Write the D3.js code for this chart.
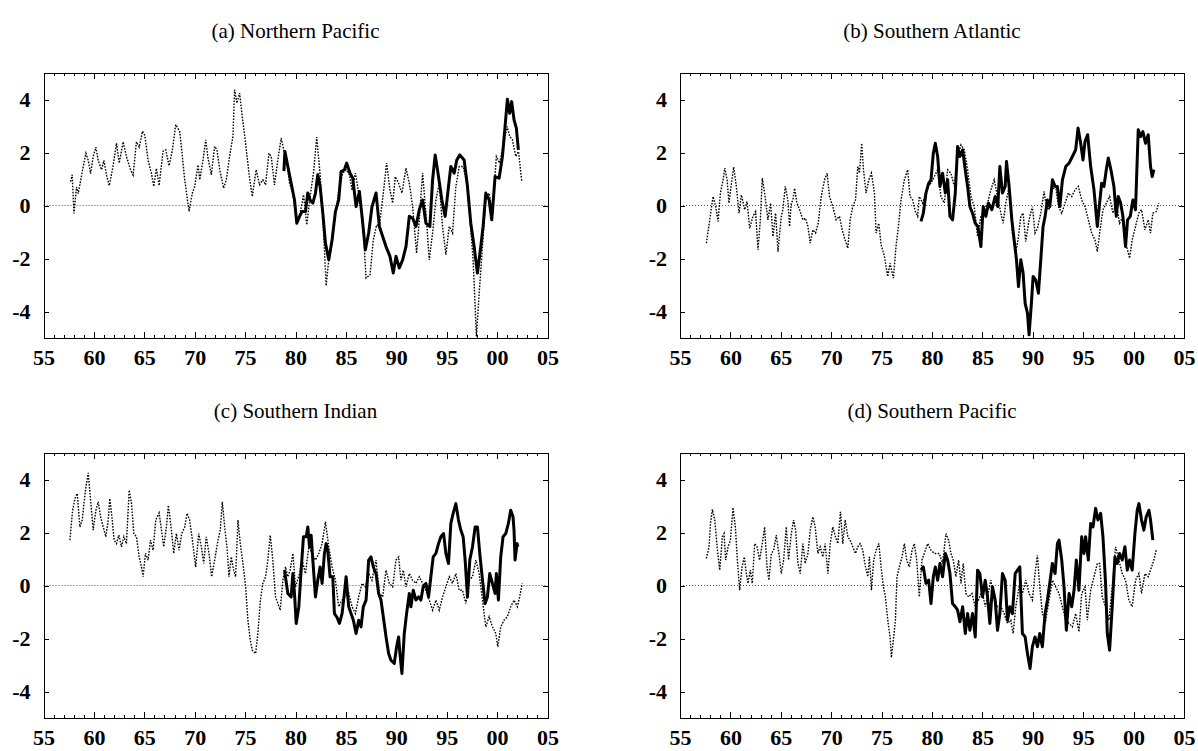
<!DOCTYPE html>
<html>
<head>
<meta charset="utf-8">
<script src="https://cdn.jsdelivr.net/npm/d3@7"></script>
<style>
  html, body { margin: 0; padding: 0; background: #fff; }
  svg { display: block; }
  .title { font-family: "Liberation Serif", "Times New Roman", serif; font-size: 21px; }
  .axis text { font-family: "Liberation Serif", "Times New Roman", serif; font-size: 22px; font-weight: bold; fill: #000; }
  .axis path, .axis line { stroke: #000; stroke-width: 1; shape-rendering: crispEdges; }
</style>
</head>
<body>
<svg id="chart" width="1198" height="751"></svg>
<script>
// Panel titles
const titles = ["(a) Northern Pacific", "(b) Southern Atlantic", "(c) Southern Indian", "(d) Southern Pacific"];

// Axis ticks
const yearMajorTicks = [1955, 1960, 1965, 1970, 1975, 1980, 1985, 1990, 1995, 2000, 2005];
const yearMinorTicks = d3.range(1955, 2006, 1);
const valueTicks = [-4, -2, 0, 2, 4];

// (a) Northern Pacific — long record (dotted) and recent record (solid), [year, value]
const northPacificLong = [
  [1957.69,0.9],[1957.85,1.16],[1958.02,-0.3],[1958.28,0.7],[1958.45,0.45],[1958.88,1.35],[1959.21,1.97],[1959.44,1.7],
  [1959.67,1.2],[1959.93,1.85],[1960.2,2.2],[1960.43,1.7],[1960.76,1.35],[1960.99,1.7],[1961.25,1.15],[1961.52,0.75],
  [1961.91,1.5],[1962.24,2.35],[1962.51,1.6],[1962.9,2.4],[1963.23,1.85],[1963.63,1.35],[1963.89,1.15],[1964.22,2.4],
  [1964.49,2.2],[1964.82,2.8],[1965.05,2.65],[1965.38,1.7],[1965.71,1.2],[1965.94,0.72],[1966.2,1.4],[1966.47,0.75],
  [1966.86,2.05],[1967.13,2.1],[1967.46,1.5],[1967.79,2.1],[1968.12,3.05],[1968.51,2.8],[1968.78,1.85],[1969.01,0.97],
  [1969.44,-0.22],[1969.77,0.47],[1970.0,0.72],[1970.33,1.53],[1970.5,0.97],[1970.83,1.72],[1971.09,2.48],[1971.32,1.79],
  [1971.65,1.16],[1971.98,2.23],[1972.21,2.1],[1972.48,1.35],[1972.87,0.65],[1973.14,0.97],[1973.46,1.85],[1973.79,2.6],
  [1973.96,4.37],[1974.19,3.86],[1974.45,4.24],[1974.72,3.36],[1975.05,2.35],[1975.38,1.22],[1975.71,0.34],[1976.1,1.35],
  [1976.43,0.78],[1976.76,0.97],[1977.03,0.78],[1977.36,1.97],[1977.59,1.85],[1977.92,0.78],[1978.25,1.72],[1978.58,2.54],
  [1978.91,1.97],[1979.08,1.85],[1979.41,0.84],[1979.74,0.47],[1980.07,-0.54],[1980.4,-0.41],[1980.8,0.4],[1981.12,-0.73],
  [1981.45,0.34],[1981.78,1.22],[1982.11,2.58],[1982.44,1.16],[1982.71,-0.41],[1983.04,-3.03],[1983.3,-2.05],[1983.63,-1.17],
  [1983.96,-0.29],[1984.36,0.72],[1984.69,1.22],[1985.02,1.35],[1985.35,1.16],[1985.61,0.59],[1985.94,1.22],[1986.27,0.47],
  [1986.67,-0.54],[1987.0,-2.74],[1987.39,-2.62],[1987.72,-1.3],[1988.05,-0.73],[1988.32,-0.79],[1988.71,0.47],[1989.04,1.6],
  [1989.37,0.59],[1989.64,0.09],[1989.9,1.09],[1990.23,0.84],[1990.56,0.47],[1990.96,1.41],[1991.29,0.84],[1991.62,-0.04],
  [1992.01,-1.8],[1992.28,-0.54],[1992.61,1.22],[1992.94,-0.29],[1993.27,-2.05],[1993.6,-1.04],[1993.93,0.21],[1994.26,0.84],
  [1994.59,-0.79],[1994.92,-1.86],[1995.25,-0.79],[1995.58,-1.04],[1995.91,0.72],[1996.24,1.47],[1996.63,1.47],[1996.96,0.91],
  [1997.29,-0.41],[1997.62,-2.05],[1997.95,-4.94],[1998.22,-3.31],[1998.55,-1.55],[1998.88,0.21],[1999.21,0.47],[1999.54,-0.29],
  [1999.93,1.85],[2000.26,1.6],[2000.59,2.23],[2000.99,2.98],[2001.26,2.6],[2001.52,2.48],[2001.85,1.85],[2002.12,2.04],
  [2002.45,0.91]
];
const northPacificRecent = [
  [1978.85,1.3],[1978.95,2.04],[1979.24,1.47],[1979.57,0.84],[1979.9,0.21],[1980.13,-0.67],[1980.4,-0.41],[1980.66,-0.23],
  [1980.99,-0.23],[1981.22,0.47],[1981.45,0.21],[1981.72,0.09],[1981.98,0.47],[1982.21,1.16],[1982.44,0.72],[1982.71,-0.29],
  [1982.97,-1.42],[1983.3,-2.05],[1983.63,-1.3],[1983.96,-0.23],[1984.29,0.21],[1984.52,1.28],[1984.85,1.35],[1985.08,1.6],
  [1985.41,1.22],[1985.68,1.03],[1986.01,-0.04],[1986.34,0.53],[1986.6,-0.41],[1986.93,-1.67],[1987.26,-1.04],[1987.59,-0.04],
  [1987.99,0.47],[1988.32,-0.79],[1988.65,-1.17],[1988.98,-1.55],[1989.37,-1.92],[1989.7,-2.55],[1989.97,-1.92],[1990.3,-2.36],
  [1990.63,-2.05],[1990.96,-1.55],[1991.29,-0.41],[1991.62,-0.48],[1991.95,-0.79],[1992.28,-0.16],[1992.61,0.21],[1992.94,-0.67],
  [1993.33,-0.79],[1993.6,0.97],[1993.86,1.91],[1994.19,1.09],[1994.52,0.21],[1994.85,-0.41],[1995.18,0.72],[1995.41,1.47],
  [1995.74,1.22],[1996.0,1.72],[1996.3,1.91],[1996.73,1.72],[1997.06,0.72],[1997.39,-0.67],[1997.72,-1.55],[1998.05,-2.55],
  [1998.38,-1.55],[1998.61,-0.79],[1998.88,0.47],[1999.21,0.21],[1999.47,-0.54],[1999.8,1.09],[2000.2,1.03],[2000.53,1.85],
  [2000.79,2.98],[2001.02,4.01],[2001.25,3.48],[2001.45,3.92],[2001.68,3.23],[2001.91,2.92],[2002.11,2.1]
];

// (b) Southern Atlantic
const southAtlanticLong = [
  [1957.62,-1.42],[1957.95,-0.54],[1958.28,0.34],[1958.55,-0.04],[1958.78,-0.6],[1959.01,0.47],[1959.27,0.97],[1959.44,1.41],
  [1959.67,0.97],[1959.86,0.09],[1960.1,0.84],[1960.33,1.45],[1960.59,0.72],[1960.85,-0.29],[1961.09,0.4],[1961.42,-0.16],
  [1961.65,0.15],[1961.91,-0.86],[1962.24,-0.41],[1962.5,-0.23],[1962.74,-1.67],[1962.97,-0.54],[1963.16,1.03],[1963.4,0.47],
  [1963.72,-0.54],[1963.99,0.09],[1964.22,-1.17],[1964.48,-0.29],[1964.72,-1.74],[1965.05,-0.41],[1965.21,-0.16],[1965.44,0.72],
  [1965.7,0.21],[1965.87,-0.79],[1966.04,0.09],[1966.2,0.21],[1966.37,0.65],[1966.6,0.09],[1966.86,-0.16],[1967.19,-0.54],
  [1967.45,-0.48],[1967.69,-0.79],[1967.92,-1.42],[1968.18,-0.92],[1968.45,-1.04],[1968.71,-0.67],[1969.01,0.34],[1969.34,0.97],
  [1969.6,1.22],[1969.83,0.34],[1970.16,-0.04],[1970.49,-0.54],[1970.82,-0.41],[1971.09,-0.92],[1971.32,-1.23],[1971.65,-1.61],
  [1971.88,-0.54],[1972.14,-0.04],[1972.41,0.21],[1972.64,1.47],[1972.8,1.22],[1973.03,2.35],[1973.2,1.35],[1973.46,0.47],
  [1973.73,0.97],[1973.99,1.22],[1974.29,0.47],[1974.45,-1.04],[1974.72,-0.67],[1974.95,-1.48],[1975.28,-1.92],[1975.61,-2.68],
  [1975.84,-2.18],[1976.17,-2.74],[1976.43,-1.55],[1976.7,-0.67],[1976.93,0.21],[1977.26,0.97],[1977.59,1.35],[1977.82,0.34],
  [1978.08,0.21],[1978.35,-0.23],[1978.58,-0.41],[1978.74,0.34],[1979.07,0.09],[1979.57,0.72],[1979.9,0.84],[1980.23,1.09],
  [1980.56,1.35],[1980.89,0.34],[1981.22,0.09],[1981.55,1.35],[1981.88,1.22],[1982.21,0.72],[1982.54,1.85],[1982.87,2.29],
  [1983.2,2.1],[1983.53,1.35],[1983.86,0.34],[1984.19,-0.04],[1984.52,-1.17],[1984.85,-0.41],[1985.18,-0.16],[1985.51,0.09],
  [1985.84,0.59],[1986.17,0.97],[1986.5,0.34],[1986.83,-0.29],[1987.06,-0.67],[1987.32,0.09],[1987.65,0.72],[1987.98,-1.04],
  [1988.31,-1.8],[1988.58,-1.17],[1988.81,-0.41],[1989.04,-0.29],[1989.3,-1.36],[1989.63,-0.54],[1989.96,-0.04],[1990.22,-1.04],
  [1990.46,-0.86],[1990.79,-0.29],[1991.12,0.53],[1991.35,-0.04],[1991.61,-0.16],[1991.88,0.59],[1992.27,0.72],[1992.54,-0.04],
  [1992.87,-0.29],[1993.2,0.09],[1993.53,0.47],[1993.86,0.34],[1994.19,0.59],[1994.52,0.72],[1994.85,0.21],[1995.18,-0.04],
  [1995.51,-0.54],[1995.84,-1.04],[1996.17,-1.3],[1996.4,-1.74],[1996.63,-1.04],[1996.96,-0.16],[1997.29,0.09],[1997.62,0.34],
  [1997.95,-0.29],[1998.28,0.09],[1998.61,-0.67],[1998.94,-0.41],[1999.27,-1.48],[1999.6,-1.99],[1999.86,-1.3],[2000.19,-0.79],
  [2000.52,-0.29],[2000.79,-0.16],[2001.12,-0.92],[2001.45,-0.54],[2001.68,-1.04],[2001.91,-0.29],[2002.24,-0.23],[2002.5,0.09]
];
const southAtlanticRecent = [
  [1978.91,-0.6],[1979.14,-0.29],[1979.4,0.47],[1979.67,0.84],[1979.9,0.97],[1980.13,1.97],[1980.33,2.35],[1980.56,1.85],
  [1980.79,0.72],[1981.05,1.22],[1981.32,0.47],[1981.55,0.97],[1981.78,-0.41],[1982.04,-0.54],[1982.31,0.47],[1982.54,2.23],
  [1982.77,1.85],[1983.04,2.1],[1983.3,1.35],[1983.53,0.72],[1983.76,-0.04],[1984.02,-0.29],[1984.29,-0.67],[1984.55,-0.79],
  [1984.85,-1.55],[1985.08,-0.04],[1985.34,-0.41],[1985.61,0.09],[1985.94,-0.16],[1986.27,0.34],[1986.53,-0.04],[1986.73,1.47],
  [1986.99,0.47],[1987.26,0.72],[1987.39,1.66],[1987.65,0.72],[1987.92,-0.54],[1988.15,-1.3],[1988.38,-2.05],[1988.58,-3.06],
  [1988.81,-2.05],[1989.04,-2.55],[1989.24,-3.69],[1989.47,-4.06],[1989.63,-4.88],[1989.86,-3.69],[1990.03,-2.68],[1990.29,-2.81],
  [1990.56,-3.31],[1990.79,-2.05],[1991.02,-0.79],[1991.22,-0.41],[1991.45,0.21],[1991.69,-0.04],[1991.95,0.97],[1992.21,0.72],
  [1992.44,0.72],[1992.68,-0.04],[1992.94,0.97],[1993.27,1.47],[1993.6,1.6],[1993.93,1.85],[1994.25,2.1],[1994.49,2.92],
  [1994.75,2.35],[1994.98,1.72],[1995.18,2.42],[1995.44,2.67],[1995.74,1.47],[1996.07,0.59],[1996.4,-0.79],[1996.63,0.09],
  [1996.83,0.84],[1997.06,0.72],[1997.29,1.35],[1997.49,1.79],[1997.75,1.35],[1998.05,0.72],[1998.28,-0.41],[1998.48,0.34],
  [1998.71,0.09],[1998.94,-0.41],[1999.2,-1.55],[1999.4,-0.54],[1999.67,-0.41],[1999.93,0.21],[2000.19,-0.16],[2000.46,2.86],
  [2000.69,2.6],[2000.92,2.79],[2001.18,2.35],[2001.45,2.67],[2001.68,1.47],[2001.84,1.09],[2002.01,1.35]
];

// (c) Southern Indian
const southIndianLong = [
  [1957.62,1.71],[1957.89,2.84],[1958.12,3.28],[1958.35,3.47],[1958.61,2.21],[1958.84,2.47],[1959.01,3.09],[1959.21,3.72],
  [1959.44,4.25],[1959.67,3.22],[1959.93,2.09],[1960.2,2.84],[1960.43,3.16],[1960.66,2.59],[1960.92,2.21],[1961.19,1.84],
  [1961.42,2.47],[1961.58,3.28],[1961.82,2.47],[1962.01,1.71],[1962.24,1.58],[1962.48,1.9],[1962.74,1.46],[1962.97,1.84],
  [1963.23,1.58],[1963.5,3.6],[1963.73,3.09],[1963.96,1.96],[1964.22,1.84],[1964.49,1.08],[1964.72,0.7],[1964.88,0.33],
  [1965.12,1.21],[1965.38,0.96],[1965.61,1.71],[1965.87,1.33],[1966.14,2.47],[1966.47,2.74],[1966.7,2.09],[1966.93,1.46],
  [1967.19,2.21],[1967.39,3.03],[1967.69,2.09],[1967.92,1.21],[1968.18,1.96],[1968.45,1.33],[1968.71,1.96],[1969.01,2.21],
  [1969.24,2.72],[1969.5,2.47],[1969.77,1.71],[1970.1,0.7],[1970.4,1.96],[1970.66,1.46],[1970.89,0.83],[1971.15,1.84],
  [1971.42,1.21],[1971.68,0.33],[1971.98,0.96],[1972.31,1.71],[1972.54,2.09],[1972.74,3.16],[1972.97,2.21],[1973.2,1.46],
  [1973.4,0.33],[1973.63,1.08],[1973.86,0.58],[1974.06,0.33],[1974.29,2.47],[1974.52,1.58],[1974.79,0.83],[1975.05,-0.05],
  [1975.28,-1.31],[1975.51,-2.06],[1975.71,-2.44],[1976.04,-2.57],[1976.27,-1.81],[1976.5,-0.62],[1976.76,0.08],[1977.03,0.33],
  [1977.26,0.96],[1977.49,1.9],[1977.75,0.96],[1978.02,-0.43],[1978.25,-0.68],[1978.48,-0.93],[1978.75,0.2],[1979.01,0.7],
  [1979.24,0.33],[1979.47,0.58],[1979.74,1.21],[1980.0,-0.05],[1980.4,0.45],[1980.66,0.96],[1980.99,0.45],[1981.32,1.46],
  [1981.65,1.21],[1981.98,0.96],[1982.31,1.21],[1982.64,1.58],[1982.97,2.4],[1983.3,1.46],[1983.63,0.7],[1983.96,0.2],
  [1984.29,-0.8],[1984.62,-0.55],[1984.95,-0.43],[1985.28,-0.3],[1985.61,-0.8],[1985.94,-1.06],[1986.27,-0.43],[1986.6,0.08],
  [1986.93,-0.05],[1987.26,0.45],[1987.59,0.2],[1987.99,0.96],[1988.32,-0.3],[1988.65,-0.43],[1988.98,0.58],[1989.31,0.08],
  [1989.64,-0.05],[1989.97,0.96],[1990.23,1.08],[1990.46,0.2],[1990.69,0.58],[1990.96,-0.05],[1991.29,0.45],[1991.62,0.2],
  [1991.95,0.08],[1992.28,0.33],[1992.61,0.08],[1992.94,-0.18],[1993.27,-0.55],[1993.6,-0.93],[1993.93,-0.55],[1994.26,-0.93],
  [1994.59,-0.43],[1994.92,-0.05],[1995.25,0.33],[1995.58,0.08],[1995.91,0.45],[1996.24,-0.18],[1996.57,-0.18],[1996.9,-0.68],
  [1997.23,0.2],[1997.56,0.33],[1997.89,0.96],[1998.22,0.45],[1998.55,-0.55],[1998.88,-1.56],[1999.21,-1.18],[1999.54,-1.56],
  [1999.87,-1.81],[2000.07,-2.31],[2000.36,-1.56],[2000.69,-1.31],[2001.02,-1.18],[2001.35,-0.8],[2001.68,-0.55],[2002.01,-0.8],
  [2002.24,-0.43],[2002.5,0.08]
];
const southIndianRecent = [
  [1978.91,0.58],[1979.24,-0.3],[1979.57,-0.43],[1979.74,0.45],[1979.9,-0.3],[1980.07,-1.43],[1980.33,-0.8],[1980.56,0.58],
  [1980.79,1.84],[1981.06,1.84],[1981.22,2.21],[1981.39,1.46],[1981.55,1.9],[1981.72,0.96],[1981.98,-0.43],[1982.21,0.2],
  [1982.44,0.7],[1982.64,0.08],[1982.87,1.21],[1983.04,1.58],[1983.2,1.33],[1983.43,0.33],[1983.7,0.33],[1983.86,-1.06],
  [1984.09,-1.18],[1984.36,-1.43],[1984.62,-1.06],[1984.85,-0.3],[1985.02,0.33],[1985.28,-0.8],[1985.51,-1.06],[1985.74,-1.31],
  [1986.01,-1.81],[1986.27,-1.31],[1986.5,-1.56],[1986.73,-0.8],[1987.0,-0.55],[1987.26,0.96],[1987.49,1.08],[1987.72,0.7],
  [1987.99,0.45],[1988.25,-0.3],[1988.48,-0.55],[1988.71,-1.18],[1988.98,-1.94],[1989.24,-2.57],[1989.47,-2.82],[1989.8,-2.94],
  [1990.03,-2.31],[1990.23,-1.94],[1990.36,-2.57],[1990.56,-3.32],[1990.79,-1.81],[1991.02,-1.06],[1991.29,-0.3],[1991.45,-0.8],
  [1991.68,-0.18],[1991.95,-0.55],[1992.21,-0.43],[1992.44,-0.55],[1992.67,-0.05],[1992.94,0.08],[1993.2,-0.43],[1993.43,0.33],
  [1993.66,1.08],[1993.93,1.21],[1994.19,1.58],[1994.42,1.84],[1994.69,1.96],[1994.92,1.21],[1995.18,0.83],[1995.41,2.34],
  [1995.64,2.72],[1995.91,3.09],[1996.17,2.47],[1996.4,2.09],[1996.63,1.84],[1996.83,0.96],[1997.06,-0.43],[1997.29,0.96],
  [1997.56,1.46],[1997.82,2.21],[1998.05,2.21],[1998.28,1.21],[1998.55,0.2],[1998.81,-0.68],[1999.04,-0.43],[1999.27,0.45],
  [1999.54,0.08],[1999.8,-0.3],[1999.93,0.45],[2000.13,-0.55],[2000.36,1.08],[2000.59,1.84],[2000.86,1.96],[2001.12,2.34],
  [2001.35,2.84],[2001.58,2.59],[2001.68,2.09],[2001.78,0.96],[2001.98,1.58],[2002.05,1.46]
];

// (d) Southern Pacific
const southPacificLong = [
  [1957.62,1.02],[1957.88,1.46],[1958.02,2.34],[1958.21,2.87],[1958.45,2.47],[1958.68,1.46],[1958.94,0.58],[1959.2,1.84],
  [1959.37,1.96],[1959.53,0.96],[1959.77,1.46],[1960.0,1.71],[1960.26,2.94],[1960.49,2.21],[1960.69,0.96],[1960.92,-0.18],
  [1961.15,0.7],[1961.38,1.08],[1961.58,0.45],[1961.75,0.08],[1961.98,0.58],[1962.17,0.08],[1962.41,1.58],[1962.64,1.46],
  [1962.9,0.96],[1963.16,1.58],[1963.4,2.21],[1963.63,0.7],[1963.82,0.2],[1964.06,1.21],[1964.29,1.33],[1964.55,1.9],
  [1964.81,1.21],[1965.05,0.45],[1965.28,0.96],[1965.54,2.21],[1965.77,0.96],[1966.04,1.96],[1966.27,2.47],[1966.47,2.09],
  [1966.7,0.83],[1966.93,0.45],[1967.19,1.58],[1967.42,0.83],[1967.69,1.21],[1967.92,2.09],[1968.18,2.59],[1968.41,2.21],
  [1968.68,1.21],[1968.91,1.46],[1969.17,1.08],[1969.4,1.58],[1969.67,0.45],[1969.9,1.58],[1970.16,2.21],[1970.42,1.84],
  [1970.66,1.58],[1970.92,2.78],[1971.15,1.58],[1971.38,2.47],[1971.65,1.84],[1971.88,1.71],[1972.14,1.46],[1972.41,1.21],
  [1972.64,1.46],[1972.87,1.58],[1973.13,1.33],[1973.4,0.7],[1973.63,0.33],[1973.79,1.08],[1973.99,-0.18],[1974.22,0.96],
  [1974.45,1.33],[1974.72,1.58],[1974.95,0.7],[1975.18,-0.05],[1975.38,-0.43],[1975.61,-1.31],[1975.84,-1.94],[1975.97,-2.72],
  [1976.2,-1.94],[1976.37,-1.31],[1976.53,0.33],[1976.76,0.7],[1977.03,1.08],[1977.26,1.58],[1977.49,0.96],[1977.75,0.7],
  [1978.02,1.33],[1978.25,1.58],[1978.48,0.96],[1978.74,-0.43],[1979.0,0.96],[1979.34,1.33],[1979.57,1.58],[1979.9,1.33],
  [1980.23,1.21],[1980.72,1.21],[1981.05,0.83],[1981.38,1.96],[1981.64,1.71],[1981.88,1.21],[1982.11,0.96],[1982.37,0.33],
  [1982.64,0.96],[1982.87,0.08],[1983.1,0.83],[1983.36,-0.3],[1983.63,-0.43],[1983.96,-0.3],[1984.29,-0.8],[1984.62,-0.55],
  [1984.95,-0.18],[1985.28,-0.8],[1985.51,-0.43],[1985.84,0.2],[1986.17,-0.55],[1986.5,-0.8],[1986.83,-0.8],[1987.16,-1.06],
  [1987.49,-1.43],[1987.82,-1.31],[1988.05,-1.81],[1988.31,-0.8],[1988.64,-0.05],[1988.97,-0.3],[1989.3,0.2],[1989.63,-0.3],
  [1989.96,-0.55],[1990.22,0.45],[1990.46,1.14],[1990.69,-0.05],[1990.95,-1.06],[1991.28,-1.31],[1991.61,-0.55],[1991.94,0.2],
  [1992.27,-0.05],[1992.6,-0.3],[1992.93,-0.8],[1993.26,-1.31],[1993.59,-1.43],[1993.92,-1.56],[1994.25,-1.06],[1994.58,-1.75],
  [1994.85,-0.3],[1995.18,-0.05],[1995.41,-1.31],[1995.74,-0.18],[1996.07,0.33],[1996.4,0.83],[1996.63,0.83],[1996.89,-0.43],
  [1997.22,-0.8],[1997.55,-1.31],[1997.88,-0.05],[1998.21,1.46],[1998.54,0.96],[1998.87,0.45],[1999.2,0.2],[1999.53,-0.55],
  [1999.86,-0.8],[2000.19,0.2],[2000.52,0.45],[2000.79,-0.3],[2001.12,0.45],[2001.45,0.33],[2001.78,0.7],[2002.01,0.96],
  [2002.24,1.33]
];
const southPacificRecent = [
  [1978.91,0.58],[1979.14,0.7],[1979.4,0.08],[1979.67,0.2],[1979.9,-0.68],[1980.13,0.33],[1980.33,0.7],[1980.56,0.2],
  [1980.79,0.83],[1981.05,0.33],[1981.32,1.21],[1981.55,0.96],[1981.78,0.45],[1982.04,-0.68],[1982.31,-0.8],[1982.54,-0.93],
  [1982.77,-1.37],[1983.04,-0.8],[1983.3,-1.81],[1983.53,-1.06],[1983.76,-1.69],[1984.02,-1.06],[1984.29,-1.94],[1984.52,0.58],
  [1984.75,0.45],[1985.01,-0.43],[1985.28,0.2],[1985.51,-0.43],[1985.74,-1.43],[1986.0,-0.05],[1986.27,-0.55],[1986.5,-1.69],
  [1986.73,-1.06],[1986.99,0.45],[1987.26,0.2],[1987.49,-1.31],[1987.72,-0.8],[1987.98,-1.06],[1988.25,0.45],[1988.48,0.58],
  [1988.71,0.7],[1988.97,-1.81],[1989.24,-1.94],[1989.47,-2.57],[1989.73,-3.13],[1989.96,-2.31],[1990.22,-1.94],[1990.46,-2.31],
  [1990.69,-1.81],[1990.95,-2.31],[1991.22,-1.06],[1991.45,-0.55],[1991.68,0.08],[1991.94,0.83],[1992.21,0.45],[1992.44,1.58],
  [1992.6,1.71],[1992.87,0.96],[1993.1,-0.05],[1993.33,-1.69],[1993.6,-0.3],[1993.86,-0.8],[1994.09,-0.18],[1994.32,0.96],
  [1994.58,-0.18],[1994.85,1.84],[1995.08,1.21],[1995.24,1.84],[1995.51,0.96],[1995.74,2.34],[1995.97,2.21],[1996.23,2.91],
  [1996.46,2.47],[1996.73,2.72],[1996.96,1.84],[1997.22,0.08],[1997.39,-1.81],[1997.62,-2.44],[1997.88,-0.8],[1998.15,1.08],
  [1998.38,0.83],[1998.61,1.21],[1998.87,0.96],[1999.14,1.46],[1999.37,0.58],[1999.6,0.96],[1999.86,0.58],[2000.13,1.96],
  [2000.36,2.84],[2000.53,3.09],[2000.79,2.47],[2001.02,2.09],[2001.25,2.59],[2001.52,2.84],[2001.68,2.47],[2001.91,1.71]
];

// Panel placement (upper-left corner of each plot frame)
const plotW = 504, plotH = 265;
const panels = [
  { title: titles[0], long: northPacificLong, recent: northPacificRecent, left: 43.5, top: 73 },
  { title: titles[1], long: southAtlanticLong, recent: southAtlanticRecent, left: 680, top: 73 },
  { title: titles[2], long: southIndianLong, recent: southIndianRecent, left: 43.5, top: 453 },
  { title: titles[3], long: southPacificLong, recent: southPacificRecent, left: 680, top: 453 }
];

const svg = d3.select("#chart");
const x = d3.scaleLinear().domain([1955, 2005]).range([0, plotW]);
const y = d3.scaleLinear().domain([-5, 5]).range([plotH, 0]);

const line = d3.line().x(d => x(d[0])).y(d => y(d[1]));

panels.forEach((p, i) => {
  const g = svg.append("g").attr("transform", `translate(${p.left},${p.top})`);

  // title
  svg.append("text")
    .attr("class", "title")
    .attr("x", p.left + plotW / 2)
    .attr("y", p.top - 35)
    .attr("text-anchor", "middle")
    .text(p.title);

  // clip region
  const clipId = `clip${i}`;
  g.append("clipPath").attr("id", clipId)
    .append("rect").attr("width", plotW).attr("height", plotH);

  // zero reference line
  g.append("line")
    .attr("x1", 0).attr("x2", plotW)
    .attr("y1", y(0)).attr("y2", y(0))
    .attr("stroke", "#555").attr("stroke-width", 1)
    .attr("stroke-dasharray", "1,2");

  const lines = g.append("g").attr("clip-path", `url(#${clipId})`);

  // long record, dotted
  lines.append("path")
    .datum(p.long)
    .attr("fill", "none")
    .attr("stroke", "#000")
    .attr("stroke-width", 1.4)
    .attr("stroke-dasharray", "1.6,1.4")
    .attr("d", line);

  // recent record, heavy solid
  lines.append("path")
    .datum(p.recent)
    .attr("fill", "none")
    .attr("stroke", "#000")
    .attr("stroke-width", 3)
    .attr("stroke-linejoin", "round")
    .attr("d", line);

  // minor year ticks (top and bottom)
  g.append("g").attr("class", "axis")
    .attr("transform", `translate(0,${plotH})`)
    .call(d3.axisBottom(x).tickValues(yearMinorTicks).tickSize(-3).tickSizeOuter(0).tickFormat(""));
  g.append("g").attr("class", "axis")
    .call(d3.axisTop(x).tickValues(yearMinorTicks).tickSize(-3).tickSizeOuter(0).tickFormat(""));

  // major year ticks with labels
  g.append("g").attr("class", "axis")
    .attr("transform", `translate(0,${plotH})`)
    .call(d3.axisBottom(x).tickValues(yearMajorTicks).tickSize(-6).tickSizeOuter(0).tickPadding(11)
      .tickFormat(d => String(d).slice(2)));
  g.append("g").attr("class", "axis")
    .call(d3.axisTop(x).tickValues(yearMajorTicks).tickSize(-6).tickSizeOuter(0).tickFormat(""));

  // value axes
  g.append("g").attr("class", "axis")
    .call(d3.axisLeft(y).tickValues(valueTicks).tickSize(-5).tickSizeOuter(0).tickPadding(13)
      .tickFormat(d => String(d)));
  g.append("g").attr("class", "axis")
    .attr("transform", `translate(${plotW},0)`)
    .call(d3.axisRight(y).tickValues(valueTicks).tickSize(-5).tickSizeOuter(0).tickFormat(""));
});
</script>
</body>
</html>
